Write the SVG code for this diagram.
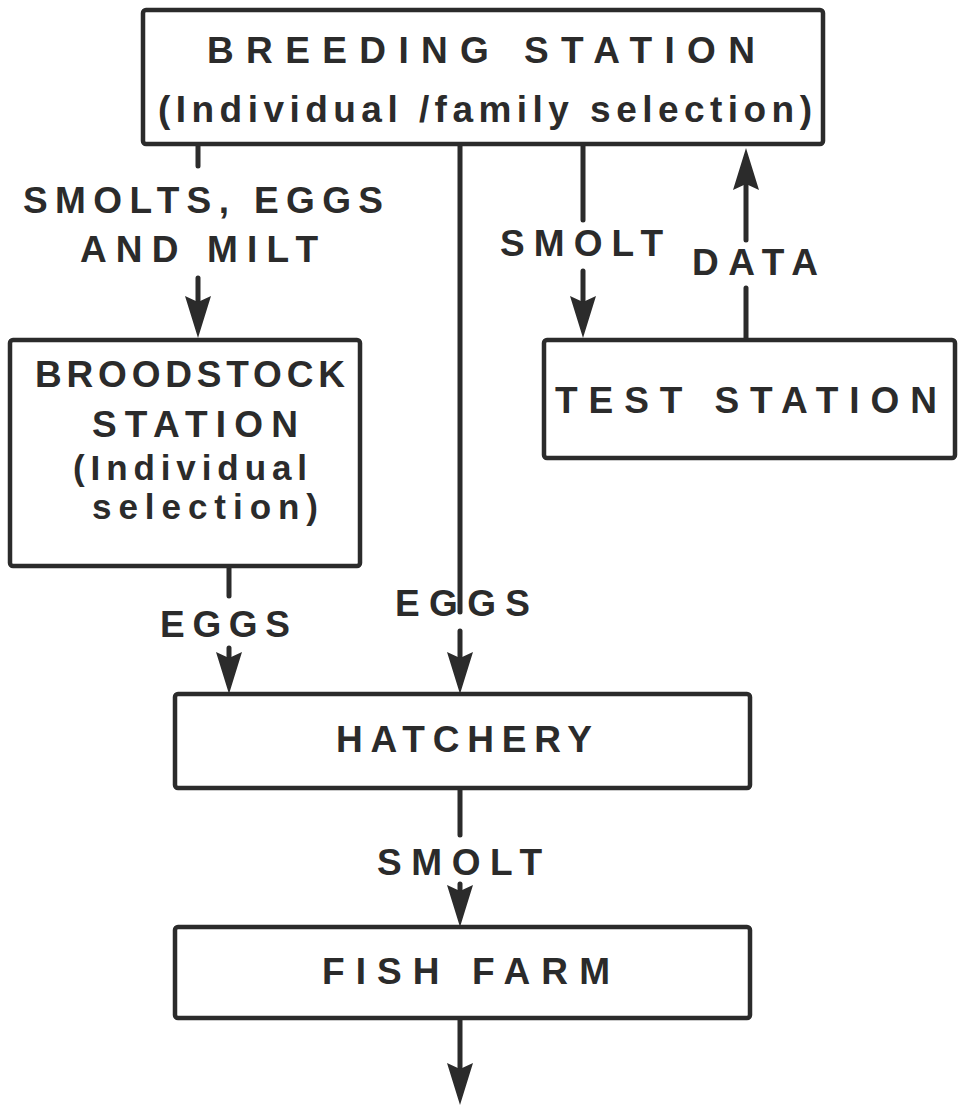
<svg xmlns="http://www.w3.org/2000/svg" width="959" height="1107" viewBox="0 0 959 1107">
<defs>
<style>
.box{fill:#fff;stroke:#2b2b2b;stroke-width:4.5}
.ln{fill:none;stroke:#2b2b2b;stroke-width:5;stroke-linecap:round}
.t{font-family:"Liberation Sans",Arial,sans-serif;font-weight:bold;fill:#2b2b2b;font-size:37px}
.s{font-size:35px}
</style>
<marker id="ah" markerUnits="userSpaceOnUse" markerWidth="42" markerHeight="26" viewBox="0 0 42 26" refX="30" refY="13" orient="auto">
<path d="M42,13 L0,0 L6,13 L0,26 Z" fill="#2b2b2b"/>
</marker>
</defs>
<rect width="959" height="1107" fill="#fff"/>
<g id="connectors">
<line class="ln" x1="198" y1="144" x2="198" y2="166"/>
<line class="ln" x1="198" y1="278" x2="198" y2="326" marker-end="url(#ah)"/>
<line class="ln" x1="460" y1="144" x2="460" y2="612"/>
<line class="ln" x1="460" y1="631" x2="460" y2="682" marker-end="url(#ah)"/>
<line class="ln" x1="583" y1="144" x2="583" y2="220"/>
<line class="ln" x1="583" y1="271" x2="583" y2="326" marker-end="url(#ah)"/>
<line class="ln" x1="746" y1="340" x2="746" y2="288"/>
<line class="ln" x1="746" y1="240" x2="746" y2="160" marker-end="url(#ah)"/>
<line class="ln" x1="229" y1="566" x2="229" y2="596"/>
<line class="ln" x1="229" y1="648" x2="229" y2="682" marker-end="url(#ah)"/>
<line class="ln" x1="460" y1="788" x2="460" y2="835"/>
<line class="ln" x1="460" y1="884" x2="460" y2="915" marker-end="url(#ah)"/>
<line class="ln" x1="460" y1="1018" x2="460" y2="1093" marker-end="url(#ah)"/>
<text class="t" x="23" y="213" textLength="360" lengthAdjust="spacing">SMOLTS, EGGS</text>
<text class="t" x="80" y="262" textLength="238" lengthAdjust="spacing">AND MILT</text>
<text class="t" x="500" y="256" textLength="163" lengthAdjust="spacing">SMOLT</text>
<text class="t" x="692" y="275" textLength="126" lengthAdjust="spacing">DATA</text>
<text class="t" x="160" y="637" textLength="130" lengthAdjust="spacing">EGGS</text>
<text class="t" x="395" y="616" textLength="135" lengthAdjust="spacing">EGGS</text>
<text class="t" x="377" y="875" textLength="165" lengthAdjust="spacing">SMOLT</text>
</g>
<g id="breeding">
<rect class="box" x="143" y="10" width="680" height="134" rx="3"/>
<text class="t" x="207" y="63" textLength="548" lengthAdjust="spacing">BREEDING  STATION</text>
<text class="t" x="158" y="122" textLength="654" lengthAdjust="spacing">(Individual /family selection)</text>
</g>
<g id="broodstock">
<rect class="box" x="10" y="340" width="350" height="226" rx="3"/>
<text class="t" x="35" y="387" textLength="310" lengthAdjust="spacing">BROODSTOCK</text>
<text class="t" x="92" y="437" textLength="206" lengthAdjust="spacing">STATION</text>
<text class="t s" x="73" y="480" textLength="234" lengthAdjust="spacing">(Individual</text>
<text class="t s" x="92" y="519" textLength="226" lengthAdjust="spacing">selection)</text>
</g>
<g id="test">
<rect class="box" x="544" y="340" width="411" height="118" rx="3"/>
<text class="t" x="555" y="413" textLength="382" lengthAdjust="spacing">TEST STATION</text>
</g>
<g id="hatchery">
<rect class="box" x="175" y="694" width="575" height="94" rx="3"/>
<text class="t" x="336" y="752" textLength="256" lengthAdjust="spacing">HATCHERY</text>
</g>
<g id="fishfarm">
<rect class="box" x="175" y="927" width="575" height="91" rx="3"/>
<text class="t" x="322" y="984" textLength="288" lengthAdjust="spacing">FISH FARM</text>
</g>
</svg>
